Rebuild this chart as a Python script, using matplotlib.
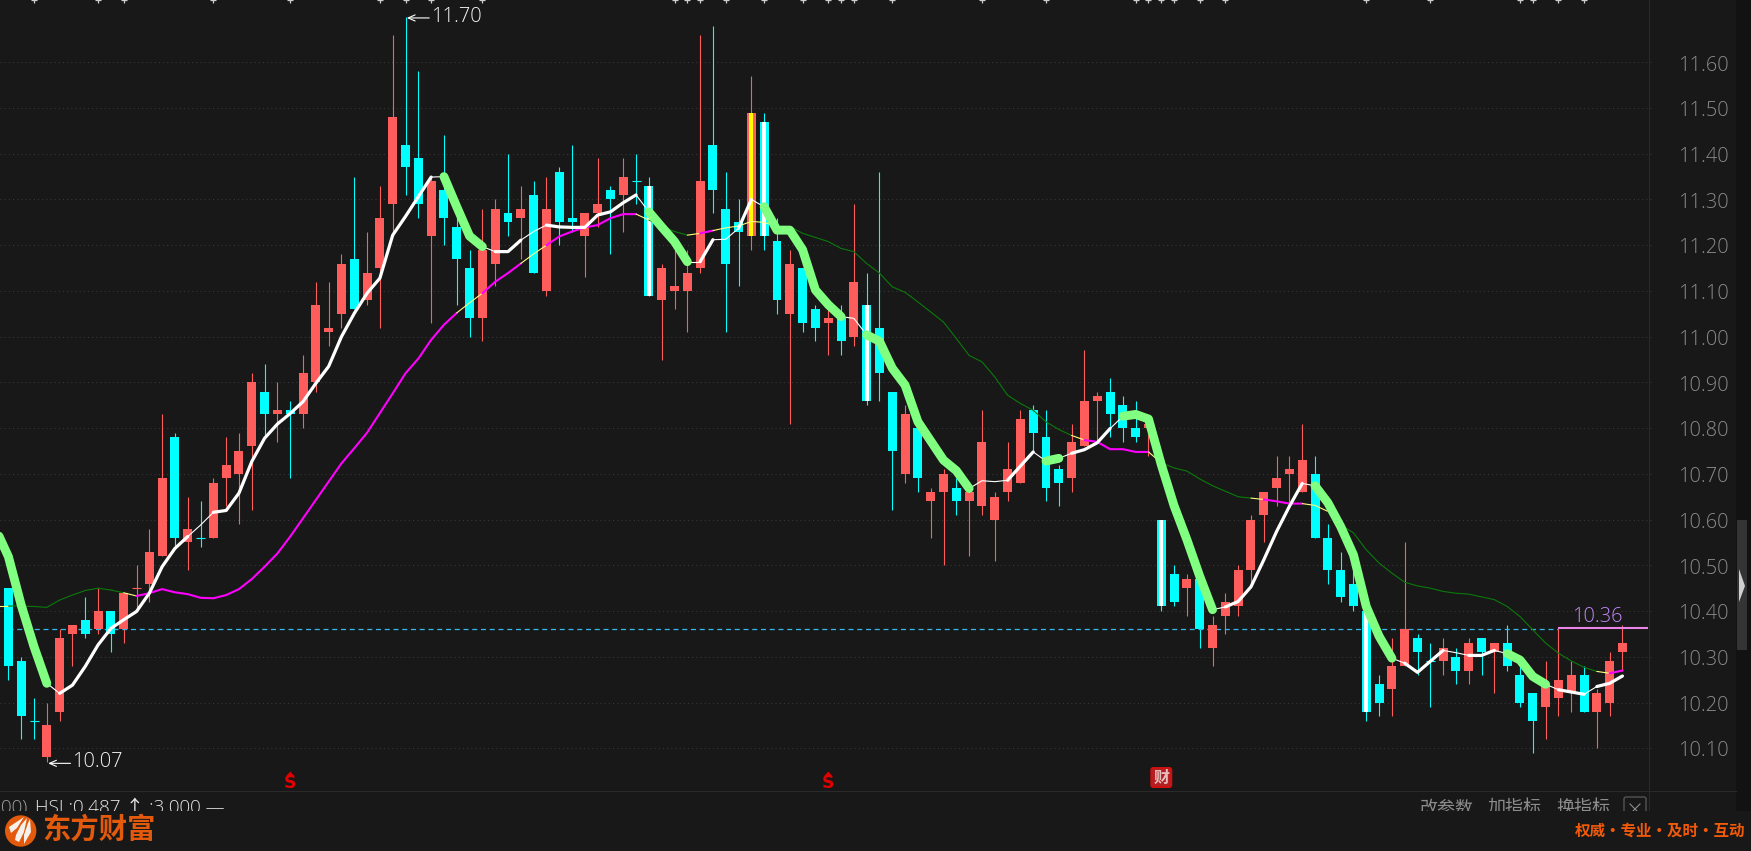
import matplotlib
matplotlib.use("Agg")
import matplotlib.pyplot as plt
from matplotlib.patches import Circle, Polygon, Rectangle, FancyBboxPatch
import numpy as np

plt.rcParams['font.family'] = ['Open Sans', 'Noto Sans CJK SC', 'DejaVu Sans']

opens = [10.45, 10.29, 10.16, 10.08, 10.18, 10.35, 10.38, 10.36, 10.40, 10.36,
         10.45, 10.46, 10.52, 10.78, 10.55, 10.56, 10.56, 10.69, 10.70, 10.76,
         10.88, 10.83, 10.84, 10.83, 10.90, 11.01, 11.05, 11.17, 11.08, 11.15,
         11.29, 11.42, 11.39, 11.22, 11.32, 11.24, 11.15, 11.04, 11.16, 11.27,
         11.26, 11.31, 11.10, 11.36, 11.26, 11.22, 11.27, 11.32, 11.31, 11.34,
         11.33, 11.08, 11.10, 11.10, 11.15, 11.42, 11.28, 11.25, 11.22, 11.47,
         11.21, 11.05, 11.15, 11.06, 11.03, 11.04, 11.00, 11.07, 11.02, 10.88,
         10.70, 10.80, 10.64, 10.66, 10.67, 10.64, 10.63, 10.60, 10.66, 10.68,
         10.84, 10.78, 10.71, 10.69, 10.76, 10.86, 10.88, 10.85, 10.80, 10.80,
         10.60, 10.48, 10.45, 10.47, 10.32, 10.39, 10.41, 10.49, 10.61, 10.67,
         10.70, 10.66, 10.70, 10.56, 10.49, 10.46, 10.40, 10.24, 10.23, 10.28,
         10.34, 10.29, 10.29, 10.30, 10.27, 10.34, 10.31, 10.33, 10.26, 10.22,
         10.19, 10.21, 10.22, 10.26, 10.18, 10.20, 10.31]
closes = [10.28, 10.17, 10.16, 10.15, 10.34, 10.37, 10.35, 10.40, 10.35, 10.44,
          10.45, 10.53, 10.69, 10.56, 10.58, 10.56, 10.68, 10.72, 10.75, 10.90,
          10.83, 10.84, 10.83, 10.92, 11.07, 11.02, 11.16, 11.06, 11.14, 11.26,
          11.48, 11.37, 11.29, 11.34, 11.26, 11.17, 11.04, 11.19, 11.28, 11.25,
          11.28, 11.14, 11.28, 11.25, 11.25, 11.27, 11.29, 11.30, 11.35, 11.34,
          11.09, 11.15, 11.11, 11.14, 11.34, 11.32, 11.16, 11.23, 11.49, 11.22,
          11.08, 11.16, 11.03, 11.02, 11.04, 10.99, 11.12, 10.86, 10.92, 10.75,
          10.83, 10.69, 10.66, 10.70, 10.64, 10.66, 10.77, 10.65, 10.71, 10.82,
          10.79, 10.67, 10.68, 10.77, 10.86, 10.87, 10.83, 10.80, 10.78, 10.81,
          10.41, 10.42, 10.47, 10.36, 10.37, 10.42, 10.49, 10.60, 10.66, 10.69,
          10.71, 10.73, 10.56, 10.49, 10.43, 10.41, 10.18, 10.20, 10.28, 10.36,
          10.31, 10.29, 10.32, 10.27, 10.33, 10.31, 10.33, 10.28, 10.20, 10.16,
          10.24, 10.25, 10.26, 10.18, 10.22, 10.29, 10.33]
highs = [10.45, 10.30, 10.21, 10.20, 10.36, 10.37, 10.43, 10.45, 10.40, 10.44,
         10.50, 10.58, 10.83, 10.79, 10.65, 10.64, 10.69, 10.78, 10.79, 10.92,
         10.94, 10.90, 10.86, 10.96, 11.12, 11.12, 11.18, 11.35, 11.23, 11.33,
         11.66, 11.70, 11.58, 11.35, 11.44, 11.28, 11.19, 11.28, 11.30, 11.40,
         11.33, 11.34, 11.35, 11.37, 11.42, 11.27, 11.39, 11.33, 11.39, 11.40,
         11.35, 11.16, 11.19, 11.19, 11.66, 11.68, 11.36, 11.30, 11.57, 11.49,
         11.26, 11.19, 11.15, 11.07, 11.06, 11.07, 11.29, 11.14, 11.36, 10.88,
         10.85, 10.80, 10.67, 10.71, 10.69, 10.67, 10.84, 10.66, 10.77, 10.84,
         10.85, 10.84, 10.72, 10.81, 10.97, 10.88, 10.91, 10.87, 10.86, 10.82,
         10.60, 10.50, 10.48, 10.47, 10.39, 10.44, 10.50, 10.61, 10.66, 10.74,
         10.74, 10.81, 10.74, 10.59, 10.53, 10.49, 10.40, 10.26, 10.34, 10.55,
         10.35, 10.33, 10.34, 10.32, 10.34, 10.34, 10.33, 10.37, 10.28, 10.22,
         10.29, 10.36, 10.29, 10.28, 10.23, 10.31, 10.37]
lows = [10.25, 10.12, 10.12, 10.07, 10.16, 10.28, 10.34, 10.35, 10.31, 10.33,
        10.40, 10.42, 10.52, 10.54, 10.49, 10.54, 10.56, 10.63, 10.59, 10.62,
        10.78, 10.77, 10.69, 10.80, 10.88, 10.98, 11.02, 11.06, 11.07, 11.02,
        11.22, 11.31, 11.26, 11.03, 11.20, 11.07, 11.00, 10.99, 11.11, 11.22,
        11.17, 11.14, 11.09, 11.20, 11.23, 11.13, 11.24, 11.18, 11.23, 11.29,
        11.09, 10.95, 11.06, 11.01, 11.14, 11.27, 11.01, 11.11, 11.19, 11.19,
        11.05, 10.81, 11.01, 10.99, 10.96, 10.96, 10.98, 10.85, 10.86, 10.62,
        10.68, 10.66, 10.56, 10.50, 10.61, 10.52, 10.61, 10.51, 10.64, 10.68,
        10.75, 10.64, 10.63, 10.66, 10.76, 10.77, 10.78, 10.77, 10.77, 10.74,
        10.40, 10.41, 10.39, 10.32, 10.28, 10.35, 10.39, 10.46, 10.55, 10.63,
        10.63, 10.66, 10.56, 10.46, 10.42, 10.40, 10.16, 10.17, 10.17, 10.28,
        10.26, 10.19, 10.26, 10.24, 10.24, 10.26, 10.22, 10.27, 10.19, 10.09,
        10.12, 10.17, 10.18, 10.18, 10.10, 10.17, 10.27]

# fast and slow averages start one bar left of the first candle
fast_ma = [10.58, 10.519, 10.413, 10.322, 10.242, 10.22, 10.238, 10.279, 10.326, 10.362, 10.381,
           10.399, 10.439, 10.497, 10.537, 10.563, 10.588, 10.616, 10.62, 10.658, 10.727,
           10.778, 10.809, 10.832, 10.858, 10.898, 10.935, 11.0, 11.051, 11.095, 11.128,
           11.222, 11.263, 11.306, 11.349, 11.35, 11.284, 11.22, 11.197, 11.186, 11.186,
           11.211, 11.23, 11.244, 11.24, 11.239, 11.239, 11.266, 11.273, 11.293, 11.31,
           11.273, 11.24, 11.208, 11.164, 11.164, 11.212, 11.213, 11.237, 11.30, 11.284,
           11.233, 11.233, 11.19, 11.102, 11.07, 11.044, 11.04, 11.004, 10.99, 10.931,
           10.894, 10.814, 10.772, 10.73, 10.707, 10.668, 10.685, 10.683, 10.686, 10.717,
           10.748, 10.728, 10.734, 10.745, 10.753, 10.768, 10.799, 10.826, 10.83, 10.82,
           10.72, 10.63, 10.556, 10.476, 10.403, 10.409, 10.421, 10.453, 10.512, 10.574,
           10.629, 10.679, 10.674, 10.637, 10.585, 10.523, 10.41, 10.345, 10.297, 10.286,
           10.266, 10.29, 10.314, 10.309, 10.303, 10.303, 10.314, 10.307, 10.293, 10.257,
           10.24, 10.228, 10.223, 10.218, 10.235, 10.242, 10.258]
slow_ma = [10.411, 10.411, 10.411, 10.41, 10.408, 10.424, 10.435, 10.445, 10.45, 10.446, 10.44,
           10.433, 10.439, 10.448, 10.441, 10.437, 10.429, 10.428, 10.435, 10.448, 10.47,
           10.497, 10.526, 10.563, 10.603, 10.643, 10.683, 10.723, 10.756, 10.79, 10.833,
           10.876, 10.92, 10.952, 10.993, 11.026, 11.052, 11.074, 11.095, 11.12, 11.139,
           11.16, 11.181, 11.2, 11.219, 11.23, 11.239, 11.244, 11.259, 11.268, 11.268,
           11.255, 11.241, 11.23, 11.222, 11.226, 11.232, 11.238, 11.242, 11.252, 11.25,
           11.241, 11.241, 11.226, 11.217, 11.208, 11.193, 11.186, 11.16, 11.139, 11.109,
           11.097, 11.076, 11.054, 11.032, 10.996, 10.959, 10.945, 10.912, 10.872, 10.854,
           10.839, 10.814, 10.797, 10.784, 10.774, 10.77, 10.754, 10.754, 10.748, 10.748,
           10.724, 10.713, 10.706, 10.689, 10.674, 10.662, 10.65, 10.647, 10.644, 10.64,
           10.635, 10.635, 10.631, 10.618, 10.589, 10.571, 10.534, 10.505, 10.483, 10.463,
           10.455, 10.45, 10.443, 10.439, 10.437, 10.431, 10.425, 10.41, 10.388, 10.359,
           10.33, 10.308, 10.291, 10.277, 10.268, 10.264, 10.27]

# trend state per run of segments: g falling, w rising, t flat / d falling, m rising, y flat
fast_runs = [('g', 4), ('t', 1), ('w', 10), ('t', 2), ('w', 17), ('t', 1), ('g', 3), ('t', 1), ('w', 2),
             ('t', 2), ('w', 7), ('t', 1), ('g', 3), ('t', 1), ('w', 1), ('t', 2), ('w', 1), ('t', 1),
             ('g', 6), ('t', 2), ('g', 8), ('t', 3), ('w', 2), ('t', 1), ('g', 1), ('t', 1), ('w', 3),
             ('t', 1), ('g', 7), ('t', 1), ('w', 6), ('t', 1), ('g', 6), ('t', 1), ('w', 3), ('t', 2),
             ('w', 2), ('t', 1), ('g', 3), ('t', 1), ('w', 2), ('t', 1), ('w', 2)]
slow_runs = [('y', 1), ('d', 9), ('y', 1), ('m', 25), ('y', 2), ('m', 3), ('y', 2), ('m', 7), ('y', 1),
             ('d', 3), ('y', 1), ('m', 1), ('y', 5), ('d', 23), ('y', 1), ('m', 5), ('y', 1), ('d', 7),
             ('y', 1), ('m', 3), ('y', 2), ('d', 21), ('y', 1), ('m', 1)]

red_doji = [10]
white_core = [50, 59, 67, 90, 106]
yellow_core = [58]
top_marks = [2, 7, 9, 16, 22, 29, 31, 33, 37, 52, 53, 54, 56, 59, 62, 64, 65, 66, 69, 76, 81, 88, 89,
             90, 91, 93, 95, 106, 111, 118, 119, 121, 123]
s_marks = [22, 64]
cai_marks = [90]
last_high = 10.36
last_high_start = 121
tick_values = [11.6, 11.5, 11.4, 11.3, 11.2, 11.1, 11.0, 10.9, 10.8, 10.7, 10.6, 10.5, 10.4, 10.3, 10.2, 10.1]

BG = '#181818'
RED = '#ff5c5c'
CYAN = '#00ffff'
W, H = 1751, 851

fig = plt.figure(figsize=(W / 100, H / 100), dpi=100, facecolor=BG)
ax = fig.add_axes([0, 0, 1, 1])
ax.set_facecolor(BG)
ax.axis('off')
ax.set_xlim((0 - 8.4) / 12.81, (W - 8.4) / 12.81)
ax.set_ylim(11.6 - (H - 62.3) / 457.3, 11.6 + 62.3 / 457.3)

# pixel overlay for the window furniture
ov = fig.add_axes([0, 0, 1, 1], zorder=5)
ov.patch.set_alpha(0)
ov.axis('off')
ov.set_xlim(0, W)
ov.set_ylim(H, 0)

for v in tick_values:
    ax.axhline(v, xmin=0, xmax=1653 / W, color='#3a3a3a', lw=0.75, ls=(0, (1, 3)), zorder=1)
    ax.text((1678 - 8.4) / 12.81, v - 0.007, '%.2f' % v, color='#8a8a8a', fontsize=14.4, fontweight='light',
            va='center', ha='left', zorder=6)

# candles
idx = np.arange(len(opens))
o, c, hi, lo = map(np.array, (opens, closes, highs, lows))
is_up = c > o
is_up[red_doji] = True
colors = [RED if u else CYAN for u in is_up]
ax.vlines(idx, lo, hi, colors=colors, lw=0.8, zorder=2)
body_low = np.minimum(o, c)
body_h = np.abs(c - o)
ax.bar(idx, body_h, bottom=body_low, width=0.70, color=colors, linewidth=0, zorder=3)
# doji bars are a short tick
doji = np.where(body_h == 0)[0]
ax.hlines(c[doji], doji - 0.35, doji + 0.35, colors=[colors[i] for i in doji], lw=0.8, zorder=3)
ax.bar(white_core, body_h[white_core], bottom=body_low[white_core], width=0.32, color='white',
       linewidth=0, zorder=4)
ax.bar(yellow_core, body_h[yellow_core], bottom=body_low[yellow_core], width=0.32, color='#ffff00',
       linewidth=0, zorder=4)

# last high line and dashed price line
ax.hlines(last_high, 0, last_high_start, colors='#35b8ee', lw=0.9, linestyles=(0, (4, 3)), zorder=2)
ax.hlines(last_high + 0.002, last_high_start, (1648 - 8.4) / 12.81, colors='#e884e8', lw=1.5, zorder=2)
ax.vlines(last_high_start, 10.21, last_high, colors=RED, lw=0.8, zorder=2)
ax.text((1597 - 8.4) / 12.81, last_high + 0.028, '%.2f' % last_high, color='#c486f5', fontsize=14.4,
        fontweight='light', ha='center', va='center', zorder=6)

# moving averages
line_x = np.arange(-1, len(opens))
styles = {'g': ('#80ff80', 6.4, 7), 'w': ('white', 2.3, 6), 't': ('white', 0.8, 6),
          'd': ('#0a7a0a', 0.8, 5), 'm': ('#ff00ff', 1.5, 5), 'y': ('#ffff80', 0.8, 5)}
for series, runs in ((slow_ma, slow_runs), (fast_ma, fast_runs)):
    pos = 0
    y = np.array(series)
    for state, n in runs:
        col, lw, z = styles[state]
        ax.plot(line_x[pos:pos + n + 1], y[pos:pos + n + 1], color=col, lw=lw, zorder=z,
                solid_capstyle='round', solid_joinstyle='round')
        pos += n

# high / low markers
i_hi = int(np.argmax(hi))
i_lo = int(np.argmin(lo))
for i, v in ((i_hi, hi[i_hi]), (i_lo, lo[i_lo])):
    yy = v - 0.003
    ax.annotate('', xy=(i + 0.1, yy), xytext=(i + 1.85, yy),
                arrowprops=dict(arrowstyle='->,head_width=0.22,head_length=0.5', color='white', lw=0.8,
                                shrinkA=0, shrinkB=0), zorder=8)
    ax.text(i + 2.0, yy + 0.002, '%.2f' % v, color='#f4f4f4', fontsize=14.4, fontweight='light',
            va='center', ha='left', zorder=8)

# top edge news ticks
ax.plot(top_marks, [11.6 + 62.5 / 457.3] * len(top_marks), ls='none', marker='+', color='#cfcfcf',
        ms=4.5, mew=0.9, zorder=3)

# event markers
for i in s_marks:
    px = 8.4 + 12.81 * i
    ov.add_patch(Polygon([(px - 4, 776), (px + 4, 776), (px, 771.5)], color='#e00000', lw=0))
    ov.text(px, 783, 'S', color='#e00000', fontsize=12.5, fontweight='bold', ha='center', va='center',
            family='DejaVu Sans')
for i in cai_marks:
    px = 8.4 + 12.81 * i
    ov.add_patch(FancyBboxPatch((px - 10, 768), 20, 19, boxstyle='round,pad=0,rounding_size=2',
                                fc='#b32024', ec='#d01010', lw=1.4))
    ov.text(px, 777.5, '财', color='#e6bcbc', fontsize=11.5, fontweight='bold', ha='center', va='center',
            family='Noto Sans CJK SC')

# window furniture
ov.plot([0, 1736], [791, 791], color='#2a2a2a', lw=0.8)
ov.plot([1649, 1649], [0, 811], color='#2a2a2a', lw=0.8)
ov.add_patch(Rectangle((1736, 0), 15, 811, fc='#121212', lw=0))
ov.add_patch(Rectangle((1737, 520), 10, 130, fc='#343434', lw=0))
ov.add_patch(Polygon([(1739, 569), (1745, 586), (1739, 602)], fc='#d0d0d0', lw=0))

ov.text(1, 808, '00)', color='#a0a0a0', fontsize=13.6, va='center', ha='left', fontweight='light')
ov.text(35, 808, 'HSL:0.487 ↑ :3.000 —', color='#e8e8e8', fontsize=13.6, va='center', ha='left', fontweight='light')
for txt, px in (('改参数', 1447), ('加指标', 1515), ('换指标', 1583)):
    ov.text(px, 808, txt, color='#8c8c8c', fontsize=13, va='center', ha='center')
ov.add_patch(FancyBboxPatch((1624, 797), 22, 22, boxstyle='round,pad=0,rounding_size=2', fc='none',
                            ec='#5a5a5a', lw=0.9))
ov.plot([1630, 1640], [804, 814], color='#8c8c8c', lw=0.8)
ov.plot([1640, 1630], [804, 814], color='#8c8c8c', lw=0.8)

# bottom brand strip hides the lower half of the toolbar text
ov.add_patch(Rectangle((0, 811), W, 40, fc=BG, lw=0, zorder=4))
ov.add_patch(Circle((20.7, 831), 15.7, fc='#e35a0c', lw=0, zorder=5))
for pts in ([(9, 827), (18, 821), (24, 817), (17, 828), (11, 833)],
            [(15, 840), (16, 835), (21, 825), (27, 818), (24, 832), (19, 842)],
            [(24, 844), (24, 835), (28, 823), (30, 819), (31, 832)]):
    ov.add_patch(Polygon(pts, fc='#f6f1ea', lw=0, zorder=6))
ov.text(99.5, 830, '东方财富', color='#e35a0c', fontsize=20.4, fontweight='bold', ha='center', va='center',
        family='Noto Sans CJK SC', zorder=6)
ov.text(1660, 830.5, '权威·专业·及时·互动', color='#f05a0a', fontsize=11.2, fontweight='bold', ha='center',
        va='center', family='Noto Sans CJK SC', zorder=6)

fig.savefig('out.png', dpi=100, facecolor=BG)
